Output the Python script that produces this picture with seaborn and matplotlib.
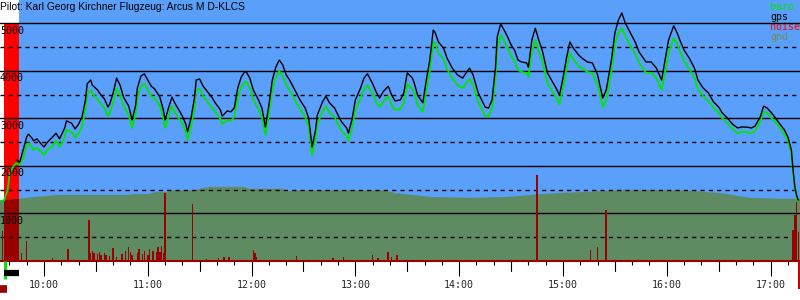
import numpy as np
import pandas as pd
import matplotlib
matplotlib.use("Agg")
import matplotlib.pyplot as plt
import matplotlib.dates as mdates
import matplotlib.transforms as mtransforms
from matplotlib.patches import Rectangle
import seaborn as sns

TITLE = "Pilot: Karl Georg Kirchner Flugzeug: Arcus M D-KLCS"
DAY = "2023-06-10"

times = [
    "09:35", "09:37", "09:39", "09:40", "09:42", "09:44", "09:46", "09:48", "09:50", "09:51",
    "09:53", "09:54", "09:56", "09:58", "10:00", "10:02", "10:05", "10:07", "10:09", "10:12",
    "10:13", "10:16", "10:18", "10:20", "10:22", "10:24", "10:25", "10:27", "10:28", "10:31",
    "10:32", "10:35", "10:37", "10:38", "10:40", "10:41", "10:42", "10:44", "10:46", "10:49",
    "10:51", "10:53", "10:54", "10:56", "10:58", "11:00", "11:02", "11:04", "11:07", "11:09",
    "11:10", "11:12", "11:14", "11:16", "11:18", "11:20", "11:22", "11:23", "11:25", "11:27",
    "11:28", "11:30", "11:32", "11:35", "11:37", "11:39", "11:42", "11:43", "11:46", "11:48",
    "11:50", "11:52", "11:54", "11:56", "11:57", "11:59", "12:01", "12:04", "12:06", "12:08",
    "12:10", "12:12", "12:14", "12:16", "12:18", "12:20", "12:22", "12:25", "12:28", "12:31",
    "12:33", "12:35", "12:37", "12:38", "12:41", "12:43", "12:45", "12:48", "12:50", "12:52",
    "12:55", "12:56", "12:58", "13:00", "13:03", "13:05", "13:07", "13:10", "13:12", "13:14",
    "13:16", "13:19", "13:21", "13:23", "13:26", "13:28", "13:30", "13:33", "13:34", "13:36",
    "13:39", "13:41", "13:43", "13:45", "13:46", "13:48", "13:51", "13:53", "13:56", "13:59",
    "14:02", "14:04", "14:06", "14:08", "14:11", "14:13", "14:15", "14:17", "14:19", "14:21",
    "14:22", "14:24", "14:26", "14:28", "14:30", "14:32", "14:34", "14:36", "14:39", "14:40",
    "14:42", "14:44", "14:46", "14:48", "14:51", "14:54", "14:56", "14:58", "15:00", "15:02",
    "15:04", "15:06", "15:09", "15:11", "15:14", "15:17", "15:20", "15:21", "15:23", "15:25",
    "15:28", "15:30", "15:32", "15:34", "15:36", "15:39", "15:42", "15:44", "15:48", "15:51",
    "15:54", "15:57", "15:59", "16:01", "16:04", "16:06", "16:08", "16:10", "16:13", "16:16",
    "16:18", "16:21", "16:24", "16:27", "16:30", "16:32", "16:35", "16:38", "16:41", "16:43",
    "16:46", "16:49", "16:51", "16:54", "16:56", "16:58", "17:00", "17:02", "17:05", "17:08",
    "17:10", "17:12", "17:13", "17:14", "17:15", "17:16",
]

nan = float("nan")
gps_ft = [
    nan, nan, nan, nan, nan, 2130, 2080, 2340, 2610, 2670,
    2590, 2530, 2570, 2480, 2400, 2500, 2610, 2690, 2570, 2800,
    2950, 2900, 2780, 2880, 3030, 3390, 3730, 3810, 3700, 3600,
    3540, 3410, 3240, 3300, 3540, 3700, 3850, 3700, 3450, 3260,
    2970, 3280, 3640, 3890, 3940, 3810, 3680, 3620, 3450, 3180,
    2970, 3220, 3450, 3300, 3180, 3050, 2880, 2720, 3010, 3430,
    3810, 3830, 3680, 3540, 3450, 3330, 3180, 3050, 3160, 3140,
    3220, 3640, 3870, 3980, 3980, 3850, 3600, 3390, 3220, 2820,
    3280, 3810, 4080, 4230, 4130, 3920, 3810, 3600, 3390, 3220,
    3010, 2400, 2760, 3070, 3350, 3470, 3330, 3220, 3070, 2930,
    2800, 2690, 2970, 3390, 3640, 3850, 3940, 3730, 3560, 3430,
    3560, 3680, 3490, 3370, 3390, 3540, 3960, 3850, 3750, 3490,
    3330, 3810, 4230, 4860, 4820, 4610, 4480, 4270, 4060, 3920,
    3850, 3960, 4060, 3920, 3540, 3390, 3240, 3220, 3390, 4080,
    4720, 4990, 4860, 4720, 4550, 4440, 4230, 4190, 4170, 4080,
    4650, 4900, 4650, 4440, 3960, 3770, 3640, 3490, 3850, 4270,
    4610, 4480, 4340, 4270, 4190, 4170, 3920, 3750, 3430, 3600,
    4230, 4800, 5070, 5220, 5010, 4800, 4590, 4400, 4190, 4190,
    4060, 3810, 4230, 4650, 4950, 4800, 4610, 4440, 4270, 4060,
    3810, 3640, 3540, 3350, 3240, 3120, 3010, 2880, 2800, 2820,
    2820, 2800, 2840, 3030, 3260, 3220, 3140, 3050, 2900, 2760,
    2610, 2340, 1920, 1560, 1390, 1280,
]

baro_ft = [
    1260, 1280, 1490, 1810, 1980, 2060, 2020, 2170, 2420, 2480,
    2400, 2340, 2380, 2320, 2230, 2340, 2420, 2530, 2400, 2610,
    2760, 2720, 2590, 2690, 2820, 3180, 3520, 3600, 3520, 3410,
    3350, 3220, 3050, 3120, 3330, 3490, 3640, 3490, 3260, 3070,
    2800, 3090, 3430, 3680, 3730, 3600, 3470, 3430, 3260, 3010,
    2800, 3030, 3260, 3120, 2990, 2880, 2720, 2550, 2820, 3220,
    3600, 3620, 3470, 3330, 3240, 3140, 2990, 2880, 2970, 2950,
    3030, 3430, 3660, 3770, 3770, 3640, 3390, 3200, 3030, 2650,
    3090, 3600, 3850, 4000, 3890, 3700, 3600, 3390, 3200, 3030,
    2820, 2230, 2590, 2880, 3140, 3260, 3120, 3030, 2880, 2740,
    2630, 2530, 2780, 3180, 3430, 3620, 3700, 3520, 3350, 3240,
    3350, 3470, 3280, 3180, 3200, 3330, 3730, 3620, 3540, 3280,
    3140, 3580, 4000, 4610, 4590, 4380, 4250, 4040, 3850, 3700,
    3640, 3750, 3830, 3700, 3350, 3200, 3050, 3050, 3200, 3850,
    4460, 4760, 4630, 4480, 4320, 4210, 4020, 3980, 3960, 3870,
    4400, 4650, 4420, 4210, 3750, 3560, 3450, 3300, 3640, 4040,
    4380, 4250, 4100, 4060, 3980, 3960, 3700, 3560, 3240, 3390,
    3980, 4550, 4800, 4900, 4740, 4530, 4340, 4170, 3960, 3960,
    3850, 3600, 3980, 4380, 4690, 4570, 4380, 4210, 4040, 3850,
    3620, 3470, 3370, 3220, 3120, 3010, 2900, 2780, 2690, 2720,
    2720, 2690, 2740, 2930, 3140, 3120, 3030, 2950, 2820, 2670,
    2530, 2270, 1870, 1540, 1370, 1260,
]

gnd_times = [
    "09:34", "09:46", "09:55", "10:09", "10:32", "10:48", "10:53", "11:01", "11:04", "11:11",
    "11:14", "11:28", "11:31", "11:36", "11:55", "11:59", "12:17", "12:22", "12:28", "13:16",
    "13:23", "13:43", "14:06", "14:29", "14:47", "15:10", "15:33", "16:08", "16:31", "16:48",
    "17:05", "17:18",
]
gnd_ft = [
    1280, 1310, 1350, 1390, 1390, 1390, 1410, 1410, 1450, 1450,
    1490, 1490, 1530, 1560, 1560, 1520, 1520, 1470, 1490, 1490,
    1430, 1350, 1330, 1350, 1410, 1450, 1490, 1490, 1430, 1330,
    1310, 1310,
]

noise_times = [
    "09:36", "09:38", "09:39", "09:41", "09:43", "09:44", "09:45", "09:47", "09:50", "10:05",
    "10:14", "10:26", "10:27", "10:28", "10:29", "10:31", "10:32", "10:33", "10:35", "10:36",
    "10:38", "10:40", "10:42", "10:45", "10:47", "10:49", "10:50", "10:51", "10:54", "10:55",
    "10:57", "10:58", "11:00", "11:01", "11:03", "11:05", "11:06", "11:07", "11:08", "11:09",
    "11:10", "11:26", "11:34", "11:41", "11:44", "11:47", "12:01", "12:02", "12:03", "12:26",
    "12:47", "12:53", "13:10", "13:13", "13:19", "13:21", "13:24", "14:45", "15:16", "15:20",
    "15:25", "17:13", "17:14", "17:15", "17:16",
]
noise_val = [
    630, 440, 320, 230, 300, 360, 250, 170, 420, 60,
    250, 860, 170, 210, 170, 150, 190, 130, 170, 130,
    110, 270, 80, 150, 210, 290, 190, 130, 170, 250,
    150, 210, 130, 250, 210, 190, 290, 190, 320, 170,
    1430, 1200, 40, 60, 80, 80, 230, 170, 80, 110,
    60, 80, 130, 60, 190, 80, 130, 1810, 230, 300,
    1070, 650, 970, 1240, 600,
]

X_START, X_END = "09:34:36", "17:17:00"
SKY_START = "09:45:30"
ENGINE_RUN = ("09:36:50", "09:45:30")
ENGINE_TOP_FT = 5000
TAKEOFF = "09:37:30"
LOGGER_MARK = ("09:34:36", "09:38:40")
LANDING = "17:16:20"
Y_MAX = 5494
major_levels = [1000, 2000, 3000, 4000, 5000]
minor_levels = [500, 1500, 2500, 3500, 4500]
legend_labels = ["baro", "gps", "noise", "gnd"]

SKY = "#5a9ffa"
GND = "#5f8b63"
DARK_RED = "#990000"
RED = "#ff0000"
GREEN = "#00e600"
GND_TXT = "#6f8c58"
legend_colors = [GREEN, "black", RED, GND_TXT]


def T(s):
    return pd.Timestamp(f"{DAY} {s}")


df = pd.DataFrame({"time": [T(t) for t in times], "gps": gps_ft, "baro": baro_ft})
gdf = pd.DataFrame({"time": [T(t) for t in gnd_times], "gnd": gnd_ft})
ndf = pd.DataFrame({"time": [T(t) for t in noise_times], "noise": noise_val})

sns.set_style("white")
plt.rcParams["font.family"] = ["DejaVu Sans Mono"]

fig = plt.figure(figsize=(8, 3), dpi=100)
fig.patch.set_facecolor("white")
ax = fig.add_axes([0, 39 / 300, 1, 261 / 300])
ax.set_facecolor("white")
ax.set_xlim(T(X_START), T(X_END))
ax.set_ylim(0, Y_MAX)

ax.axvspan(T(SKY_START), T(X_END), color=SKY, lw=0, zorder=0)
ax.axvspan(T(ENGINE_RUN[0]), T(ENGINE_RUN[1]), ymax=ENGINE_TOP_FT / Y_MAX, color=RED, lw=0,
           zorder=0.5)

ax.fill_between(gdf["time"], 0, gdf["gnd"], color=GND, lw=0, zorder=1)
band_gnd = ax.fill_between(gdf["time"], 0, gdf["gnd"], color=DARK_RED, lw=0, zorder=1.1)
x0 = mdates.date2num(T(ENGINE_RUN[0]))
x1 = mdates.date2num(T(ENGINE_RUN[1]))
clip = Rectangle((x0, 0), x1 - x0, Y_MAX, transform=ax.transData)
band_gnd.set_clip_path(clip)

for lv in major_levels:
    ax.axhline(lv, color="black", lw=1.0, zorder=2)
for lv in minor_levels:
    ax.axhline(lv, color="black", lw=1.0, ls=(0, (3, 3)), zorder=2)

bar_w = 1.5 * 0.578 / 1440
ax.bar(ndf["time"], ndf["noise"], width=bar_w, color=DARK_RED, lw=0, zorder=3)

sns.lineplot(data=df, x="time", y="baro", color=GREEN, lw=1.3, estimator=None, ax=ax, zorder=4)
sns.lineplot(data=df.dropna(), x="time", y="gps", color="black", lw=1.0, estimator=None, ax=ax, zorder=5)

ax.set_xlabel("")
ax.set_ylabel("")
ax.set_yticks([])

blend = mtransforms.blended_transform_factory(ax.transAxes, ax.transData)
lab_off = mtransforms.ScaledTranslation(0, -1.5 / 72, fig.dpi_scale_trans)
for lv in major_levels:
    ax.text(0.0, lv, f"{lv}", transform=blend + lab_off, ha="left", va="top", fontsize=7.2,
            color="black", zorder=6)

ax.text(0.0, 1 - 7 / 261, TITLE, transform=ax.transAxes, ha="left", va="center",
        fontsize=7.4, family=["Liberation Sans"], color="black", zorder=6)

for i, (lab, col) in enumerate(zip(legend_labels, legend_colors)):
    ax.text(770 / 800, 1 - (7 + 10 * i) / 261, lab, transform=ax.transAxes, ha="left",
            va="center", fontsize=7.2, color=col, zorder=6)

# x axis ticks
ax.xaxis.set_major_locator(mdates.HourLocator())
ax.xaxis.set_major_formatter(mdates.DateFormatter("%H:%M"))
ax.xaxis.set_minor_locator(mdates.MinuteLocator(byminute=[10, 20, 40, 50]))
ax.tick_params(axis="x", which="major", bottom=True, length=10.5, width=0.8, color="black",
               labelsize=7.2, pad=3, direction="out")
ax.tick_params(axis="x", which="minor", bottom=True, length=3, width=0.8, color="black",
               direction="out")
xblend = mtransforms.blended_transform_factory(ax.transData, ax.transAxes)
for hh in pd.date_range(T("09:30"), T("17:30"), freq="30min"):
    if hh.minute == 30 and T(X_START) < hh < T(X_END):
        ax.plot([hh, hh], [0, -10 / 261], transform=xblend, color="black", lw=0.8,
                clip_on=False, zorder=6)

for side in ["top", "left", "right"]:
    ax.spines[side].set_visible(False)
ax.spines["bottom"].set_color(DARK_RED)
ax.spines["bottom"].set_linewidth(1.5)

# event markers below the axis
ax.plot([T(TAKEOFF), T(TAKEOFF)], [0, -18 / 261], transform=xblend, color=GREEN, lw=2.2,
        clip_on=False, solid_capstyle="butt", zorder=7)
ax.plot([T(ENGINE_RUN[0]), T(ENGINE_RUN[1])], [-12 / 261, -12 / 261], transform=xblend,
        color="black", lw=4.5, clip_on=False, solid_capstyle="butt", zorder=8)
ax.plot([T(LOGGER_MARK[0]), T(LOGGER_MARK[1])], [-28 / 261, -28 / 261], transform=xblend,
        color=DARK_RED, lw=5.5, clip_on=False, solid_capstyle="butt", zorder=8)
ax.plot([T(LANDING), T(LANDING)], [0, -28 / 261], transform=xblend, color="#cc0000", lw=1.5,
        clip_on=False, solid_capstyle="butt", zorder=8)

fig.savefig("out.png", dpi=100, facecolor="white")
